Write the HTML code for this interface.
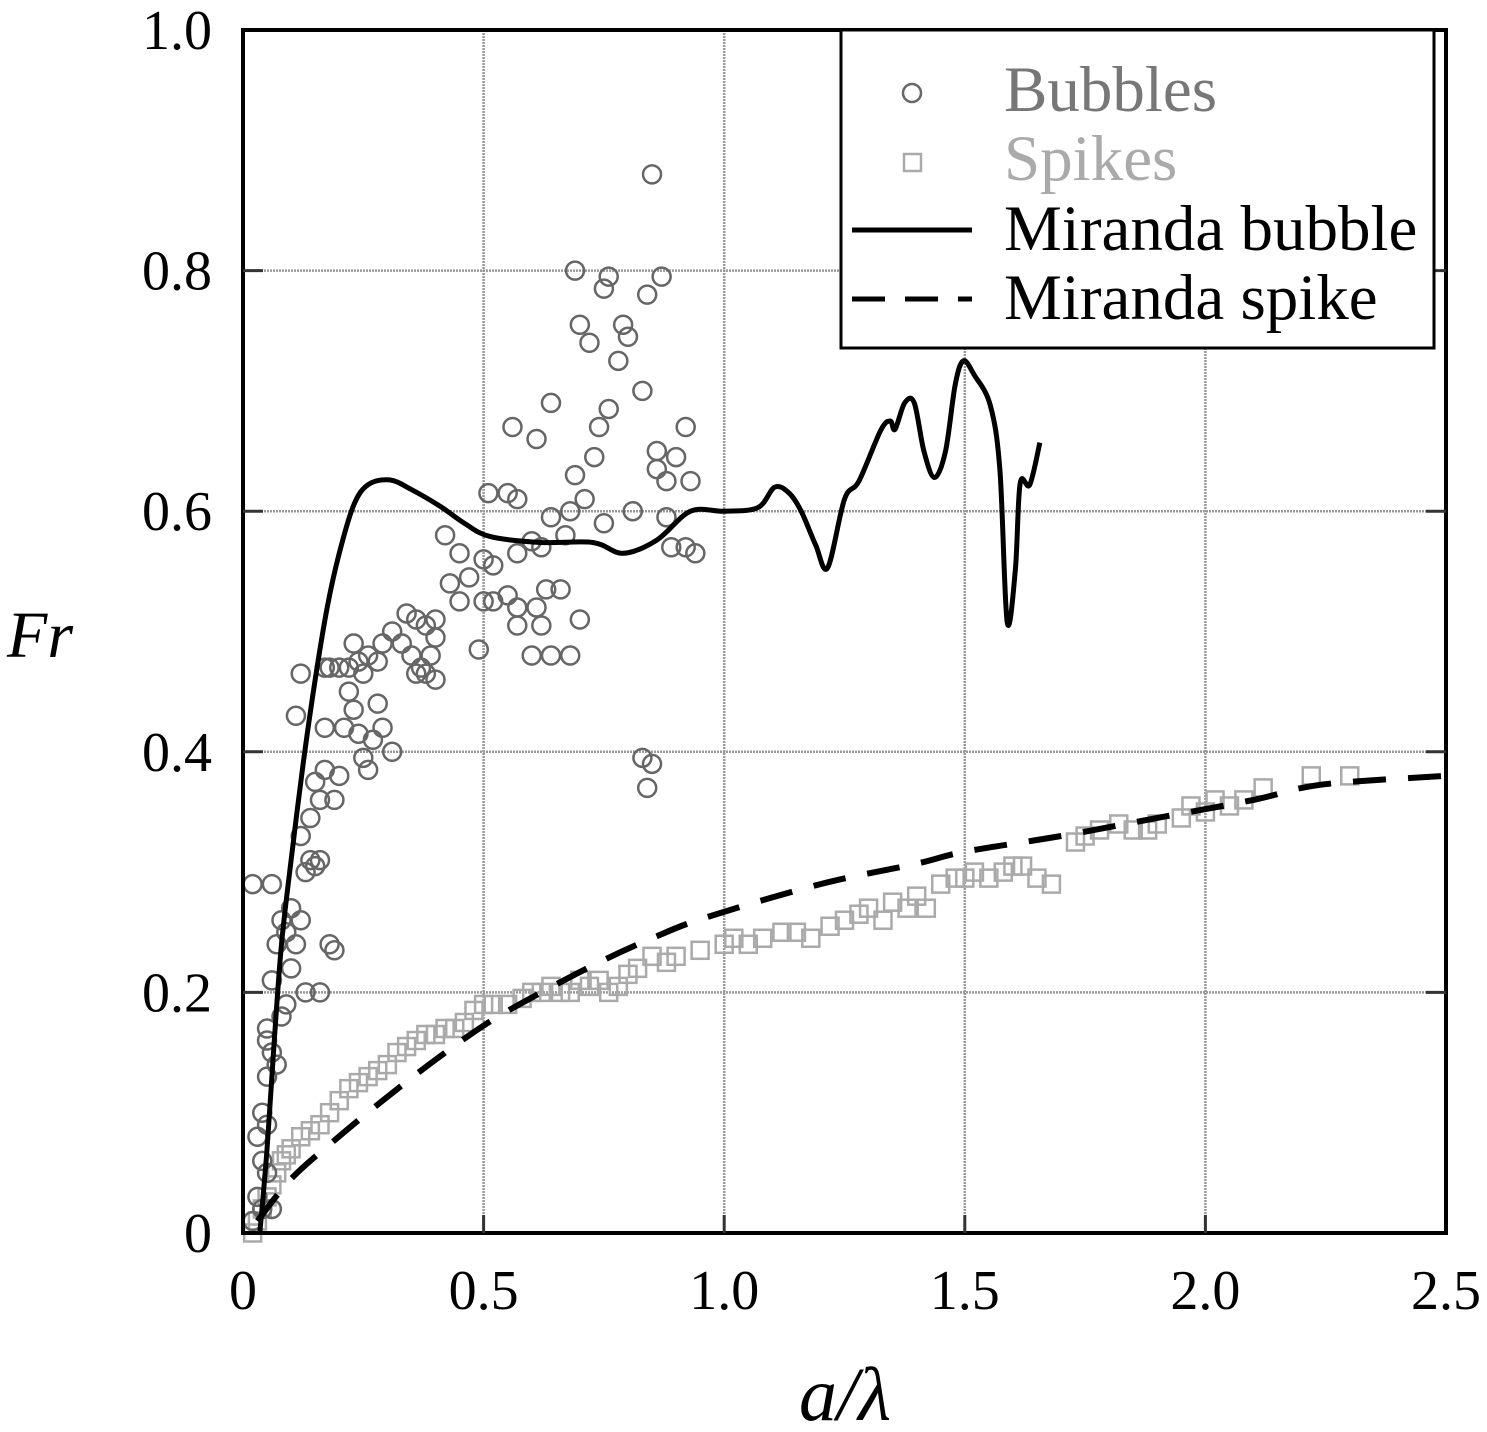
<!DOCTYPE html>
<html><head><meta charset="utf-8"><style>
html,body{margin:0;padding:0;background:#fff}
svg{display:block}
text{font-family:"Liberation Serif",serif}
</style></head><body>
<svg id="chart" width="1487" height="1432" viewBox="0 0 1487 1432" xmlns="http://www.w3.org/2000/svg">
<g id="grid"></g>
<g id="series"></g>
<rect x="243" y="30" width="1203" height="1203" fill="none" stroke="#000" stroke-width="4"/>
<g id="ticks"></g>
<text x="40" y="657" font-size="66" font-style="italic" text-anchor="middle">Fr</text>
<text x="845" y="1420" font-size="76" font-style="italic" text-anchor="middle">a/λ</text>
<g>
<rect x="841" y="30" width="593" height="318" fill="#fff" stroke="#000" stroke-width="3"/>
<circle cx="912" cy="93" r="9" fill="none" stroke="#666" stroke-width="2.5"/>
<text x="1004" y="111" font-size="65" fill="#777">Bubbles</text>
<rect x="904" y="154" width="17" height="17" fill="none" stroke="#aaa" stroke-width="2.5"/>
<text x="1004" y="180" font-size="65" fill="#aaa">Spikes</text>
<line x1="852" y1="230" x2="972" y2="230" stroke="#000" stroke-width="5"/>
<text x="1004" y="250" font-size="65">Miranda bubble</text>
<line x1="852" y1="299" x2="972" y2="299" stroke="#000" stroke-width="5" stroke-dasharray="33,20"/>
<text x="1004" y="319" font-size="65">Miranda spike</text>
</g>
</svg>
<script>
const xTicks=[0,0.5,1.0,1.5,2.0,2.5];
const xTickLabels=["0","0.5","1.0","1.5","2.0","2.5"];
const yTicks=[0,0.2,0.4,0.6,0.8,1.0];
const yTickLabels=["0","0.2","0.4","0.6","0.8","1.0"];
const bubbleX=[0.85,0.69,0.76,0.87,0.75,0.84,0.70,0.79,0.80,0.72,0.78,0.83,0.64,0.76,0.56,0.74,0.92,0.61,0.86,0.73,0.90,0.86,0.69,0.88,0.93,0.51,0.55,0.57,0.71,0.68,0.81,0.64,0.88,0.75,0.67,0.60,0.57,0.89,0.62,0.92,0.94,0.50,0.52,0.45,0.42,0.47,0.43,0.45,0.55,0.50,0.52,0.57,0.61,0.57,0.63,0.66,0.62,0.60,0.64,0.68,0.70,0.49,0.40,0.38,0.36,0.40,0.39,0.37,0.34,0.33,0.31,0.29,0.28,0.26,0.25,0.23,0.24,0.22,0.20,0.18,0.17,0.12,0.35,0.36,0.38,0.40,0.22,0.23,0.21,0.24,0.17,0.28,0.29,0.27,0.11,0.25,0.31,0.26,0.20,0.19,0.17,0.15,0.16,0.14,0.12,0.14,0.13,0.15,0.16,0.83,0.85,0.84,0.02,0.06,0.10,0.12,0.08,0.07,0.11,0.18,0.19,0.09,0.10,0.13,0.16,0.06,0.05,0.06,0.07,0.05,0.04,0.05,0.03,0.04,0.05,0.03,0.02,0.06,0.04,0.05,0.09,0.08];
const bubbleY=[0.88,0.80,0.795,0.795,0.785,0.78,0.755,0.755,0.745,0.74,0.725,0.70,0.69,0.685,0.67,0.67,0.67,0.66,0.65,0.645,0.645,0.635,0.63,0.625,0.625,0.615,0.615,0.61,0.61,0.60,0.60,0.595,0.595,0.59,0.58,0.575,0.565,0.57,0.57,0.57,0.565,0.56,0.555,0.565,0.58,0.545,0.54,0.525,0.53,0.525,0.525,0.52,0.52,0.505,0.535,0.535,0.505,0.48,0.48,0.48,0.51,0.485,0.51,0.505,0.51,0.495,0.48,0.47,0.515,0.49,0.50,0.49,0.475,0.48,0.465,0.49,0.475,0.47,0.47,0.47,0.47,0.465,0.48,0.465,0.465,0.46,0.45,0.435,0.42,0.415,0.42,0.44,0.42,0.41,0.43,0.395,0.40,0.385,0.38,0.36,0.385,0.375,0.36,0.345,0.33,0.31,0.30,0.305,0.31,0.395,0.39,0.37,0.29,0.29,0.27,0.26,0.26,0.24,0.24,0.24,0.235,0.25,0.22,0.20,0.20,0.21,0.16,0.15,0.14,0.13,0.10,0.09,0.08,0.06,0.05,0.03,0.01,0.02,0.02,0.17,0.19,0.18];
const spikeX=[0.02,0.03,0.04,0.05,0.06,0.07,0.08,0.09,0.10,0.12,0.14,0.16,0.18,0.20,0.22,0.24,0.26,0.28,0.30,0.32,0.34,0.36,0.38,0.40,0.42,0.44,0.46,0.48,0.50,0.52,0.55,0.58,0.60,0.62,0.64,0.66,0.68,0.70,0.72,0.74,0.76,0.78,0.80,0.82,0.85,0.88,0.90,0.95,1.00,1.02,1.05,1.08,1.12,1.15,1.18,1.22,1.25,1.28,1.30,1.33,1.35,1.38,1.40,1.42,1.45,1.48,1.50,1.52,1.55,1.58,1.60,1.62,1.65,1.68,1.73,1.75,1.78,1.82,1.85,1.88,1.90,1.95,1.97,2.00,2.02,2.05,2.08,2.12,2.22,2.30];
const spikeY=[0.00,0.01,0.02,0.03,0.04,0.05,0.06,0.065,0.07,0.08,0.085,0.09,0.10,0.11,0.12,0.125,0.13,0.135,0.14,0.15,0.155,0.16,0.165,0.165,0.17,0.17,0.175,0.185,0.19,0.19,0.19,0.195,0.20,0.20,0.205,0.20,0.20,0.21,0.205,0.21,0.20,0.205,0.215,0.22,0.23,0.225,0.23,0.235,0.24,0.245,0.24,0.245,0.25,0.25,0.245,0.255,0.26,0.265,0.27,0.26,0.275,0.27,0.28,0.27,0.29,0.295,0.295,0.30,0.295,0.30,0.305,0.305,0.295,0.29,0.325,0.33,0.335,0.34,0.335,0.335,0.34,0.345,0.355,0.35,0.36,0.355,0.36,0.37,0.38,0.38];
const mirBubbleX=[0.035,0.05,0.065,0.08,0.1,0.125,0.15,0.175,0.2,0.23,0.26,0.305,0.35,0.41,0.46,0.513,0.617,0.727,0.79,0.86,0.93,1.0,1.07,1.105,1.135,1.16,1.19,1.215,1.25,1.28,1.325,1.345,1.355,1.375,1.395,1.415,1.437,1.46,1.48,1.497,1.52,1.553,1.573,1.588,1.605,1.615,1.635,1.656];
const mirBubbleY=[0.0,0.07,0.16,0.24,0.31,0.39,0.46,0.52,0.565,0.605,0.622,0.626,0.618,0.604,0.59,0.579,0.574,0.574,0.565,0.576,0.60,0.60,0.603,0.62,0.615,0.60,0.572,0.553,0.61,0.625,0.667,0.675,0.668,0.69,0.69,0.65,0.628,0.65,0.705,0.725,0.713,0.688,0.634,0.508,0.551,0.623,0.622,0.657];
const mirSpikeX=[0.03,0.1,0.19,0.29,0.4,0.51,0.62,0.74,0.85,0.96,1.2,1.4,1.5,1.7,1.9,2.1,2.2,2.3,2.5];
const mirSpikeY=[0.01,0.045,0.077,0.11,0.144,0.175,0.2,0.225,0.245,0.262,0.29,0.307,0.317,0.33,0.345,0.36,0.37,0.375,0.38];

const NS="http://www.w3.org/2000/svg";
const X0=243,X1=1446,Y0=1233,Y1=30;
const sx=v=>X0+(v/2.5)*(X1-X0);
const sy=v=>Y0-v*(Y0-Y1);
function mk(tag,attrs,parent){const e=document.createElementNS(NS,tag);for(const k in attrs)e.setAttribute(k,attrs[k]);parent.appendChild(e);return e;}
const grid=document.getElementById('grid'),ticks=document.getElementById('ticks'),series=document.getElementById('series');
xTicks.forEach((v,i)=>{
  const x=sx(v);
  if(i>0&&i<xTicks.length-1){const g=mk('line',{x1:x,y1:Y1,x2:x,y2:Y0,stroke:'#999','stroke-width':2.5,'stroke-dasharray':'2,1'},grid);
  
  
  const t1=mk('line',{x1:x,y1:Y0,x2:x,y2:Y0-18,stroke:'#333','stroke-width':3},ticks);
  
  }
  const t=mk('text',{x:x,y:1309,'font-size':56,'text-anchor':'middle'},ticks);t.textContent=xTickLabels[i];
  
  
});
yTicks.forEach((v,i)=>{
  const y=sy(v);
  if(i>0&&i<yTicks.length-1){const g=mk('line',{x1:X0,y1:y,x2:X1,y2:y,stroke:'#999','stroke-width':2.5,'stroke-dasharray':'2,1'},grid);
  
  
  const t1=mk('line',{x1:X0,y1:y,x2:X0+20,y2:y,stroke:'#333','stroke-width':3},ticks);
  
  
  const t2=mk('line',{x1:X1,y1:y,x2:X1-20,y2:y,stroke:'#333','stroke-width':3},ticks);
  
  }
  const t=mk('text',{x:212,y:y+19,'font-size':56,'text-anchor':'end'},ticks);t.textContent=yTickLabels[i];
  
  
});
spikeX.forEach((v,i)=>{const r=mk('rect',{x:sx(v)-8.5,y:sy(spikeY[i])-8.5,width:17,height:17,fill:'none',stroke:'#aaa','stroke-width':2.5},series);
  
  });
bubbleX.forEach((v,i)=>{const c=mk('circle',{cx:sx(v),cy:sy(bubbleY[i]),r:9,fill:'none',stroke:'#666','stroke-width':2.5},series);
  
  });
function smooth(xs,ys){const p=xs.map((v,i)=>[sx(v),sy(ys[i])]);let d='M'+p[0][0]+','+p[0][1];
  for(let i=0;i<p.length-1;i++){const a=p[i-1]||p[i],b=p[i],c=p[i+1],e=p[i+2]||c;
    d+=' C'+(b[0]+(c[0]-a[0])/6)+','+(b[1]+(c[1]-a[1])/6)+' '+(c[0]-(e[0]-b[0])/6)+','+(c[1]-(e[1]-b[1])/6)+' '+c[0]+','+c[1];}
  return d;}
const l1=mk('path',{d:smooth(mirSpikeX,mirSpikeY),fill:'none',stroke:'#000','stroke-width':6,'stroke-dasharray':'33,22'},series);


const l2=mk('path',{d:smooth(mirBubbleX,mirBubbleY),fill:'none',stroke:'#000','stroke-width':5,'stroke-linejoin':'round'},series);


</script>
</body></html>
